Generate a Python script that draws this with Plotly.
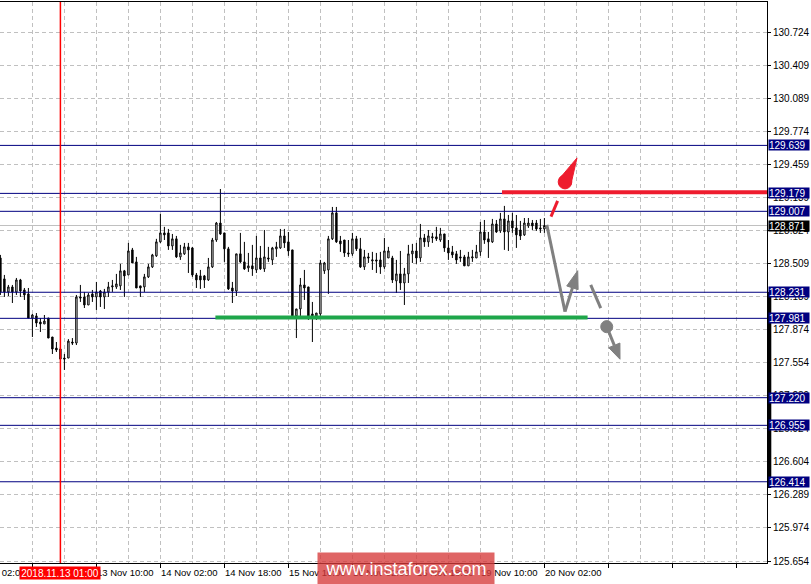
import plotly.graph_objects as go

# ---------------- data (USDJPY-like H1 candles) ----------------
opens = [128.560,128.359,128.234,128.282,128.234,128.349,128.253,128.215,127.984,128.004,
         127.946,127.927,127.984,127.802,127.696,127.687,127.600,127.600,127.754,127.744,
         128.186,128.186,128.109,128.215,128.186,128.243,128.186,128.234,128.282,128.282,
         128.292,128.436,128.397,128.637,128.522,128.292,128.282,128.378,128.474,128.580,
         128.714,128.800,128.800,128.675,128.743,128.570,128.599,128.666,128.656,128.397,
         128.388,128.388,128.349,128.474,128.732,128.895,128.800,128.647,128.272,128.243,
         128.599,128.522,128.464,128.484,128.445,128.560,128.455,128.560,128.541,128.647,
         128.656,128.771,128.714,128.637,128.004,128.071,128.301,128.282,128.023,128.004,
         128.023,128.436,128.445,128.743,128.992,128.723,128.732,128.608,128.599,128.743,
         128.647,128.474,128.570,128.531,128.541,128.541,128.474,128.560,128.560,128.340,
         128.407,128.320,128.407,128.599,128.627,128.560,128.752,128.714,128.752,128.762,
         128.732,128.790,128.656,128.618,128.599,128.570,128.570,128.484,128.560,128.560,
         128.618,128.809,128.743,128.714,128.886,128.819,128.934,128.809,128.915,128.848,
         128.828,128.781,128.867,128.895,128.895,128.848,128.838]
highs = [128.589,128.397,128.301,128.301,128.368,128.359,128.272,128.272,128.023,128.032,
         127.984,128.013,127.984,127.802,127.754,127.706,127.639,127.782,127.792,128.205,
         128.301,128.234,128.224,128.253,128.330,128.253,128.263,128.330,128.349,128.407,
         128.503,128.445,128.704,128.656,128.570,128.292,128.407,128.503,128.599,128.743,
         128.982,128.858,128.838,128.790,128.771,128.685,128.704,128.704,128.666,128.416,
         128.445,128.397,128.560,128.752,128.905,129.221,128.800,128.666,128.330,128.599,
         128.800,128.714,128.608,128.685,128.771,128.675,128.828,128.666,128.666,128.714,
         128.838,128.838,128.809,128.637,128.071,128.368,128.445,128.282,128.138,128.032,
         128.541,128.522,128.771,129.049,129.049,128.771,128.732,128.732,128.800,128.771,
         128.752,128.637,128.608,128.618,128.608,128.618,128.752,128.666,128.580,128.541,
         128.627,128.464,128.685,128.695,128.704,128.886,128.790,128.828,128.800,128.858,
         128.848,128.790,128.732,128.675,128.627,128.637,128.589,128.618,128.637,128.685,
         128.905,128.924,128.809,128.934,128.924,128.992,129.059,128.972,128.992,128.972,
         128.915,128.943,128.943,128.924,128.924,128.934,128.943]
lows = [128.205,128.186,128.195,128.128,128.205,128.186,128.157,127.984,127.802,127.898,
        127.850,127.927,127.792,127.639,127.658,127.581,127.486,127.600,127.725,127.725,
        128.138,128.080,128.109,128.138,128.061,128.090,128.071,128.186,128.234,128.263,
        128.253,128.186,128.397,128.512,128.272,128.186,128.234,128.368,128.464,128.570,
        128.704,128.732,128.637,128.637,128.560,128.541,128.589,128.416,128.378,128.272,
        128.263,128.272,128.340,128.464,128.714,128.781,128.522,128.253,128.128,128.195,
        128.512,128.445,128.426,128.388,128.416,128.445,128.426,128.522,128.493,128.570,
        128.647,128.656,128.580,128.004,127.792,128.004,128.157,127.965,127.754,127.965,
        128.004,128.407,128.215,128.732,128.704,128.618,128.570,128.570,128.580,128.627,
        128.464,128.445,128.512,128.445,128.416,128.407,128.455,128.560,128.320,128.224,
        128.253,128.109,128.320,128.512,128.503,128.522,128.666,128.666,128.704,128.723,
        128.714,128.618,128.541,128.560,128.503,128.522,128.484,128.484,128.522,128.560,
        128.580,128.695,128.560,128.704,128.800,128.800,128.637,128.627,128.800,128.656,
        128.732,128.771,128.848,128.828,128.819,128.800,128.800]
closes = [128.234,128.234,128.282,128.234,128.349,128.243,128.205,127.984,128.013,127.936,
          127.927,127.955,127.792,127.687,127.677,127.591,127.591,127.763,127.744,128.186,
          128.176,128.109,128.205,128.186,128.234,128.186,128.234,128.282,128.292,128.311,
          128.436,128.388,128.627,128.512,128.272,128.272,128.378,128.474,128.589,128.714,
          128.800,128.781,128.675,128.743,128.570,128.608,128.666,128.637,128.397,128.349,
          128.349,128.349,128.474,128.732,128.895,128.790,128.647,128.263,128.243,128.599,
          128.522,128.455,128.484,128.455,128.560,128.455,128.570,128.551,128.656,128.666,
          128.771,128.704,128.627,128.004,128.071,128.301,128.272,128.004,128.004,128.032,
          128.512,128.512,128.743,128.992,128.714,128.695,128.608,128.599,128.743,128.647,
          128.474,128.570,128.560,128.541,128.531,128.474,128.627,128.627,128.349,128.407,
          128.320,128.407,128.599,128.627,128.560,128.752,128.714,128.771,128.762,128.743,
          128.790,128.656,128.608,128.589,128.541,128.560,128.484,128.570,128.570,128.618,
          128.809,128.732,128.714,128.886,128.809,128.934,128.809,128.915,128.848,128.781,
          128.771,128.895,128.895,128.867,128.838,128.838,128.871]

# time-axis labels (bar index -> label); bar 0 = 2018.11.12 10:00 (H1)
xlabel_pos = [-8, 8, 24, 40, 56, 72, 88, 104, 120, 136]
xlabel_txt = ["12 Nov 02:00", "12 Nov 18:00", "13 Nov 10:00", "14 Nov 02:00", "14 Nov 18:00",
              "15 Nov 10:00", "16 Nov 02:00", "16 Nov 18:00", "19 Nov 10:00", "20 Nov 02:00"]
cursor_bar = 15
cursor_label = "2018.11.13 01:00"

# price axis ticks
ytick_vals = [130.724, 130.409, 130.089, 129.774, 129.459, 129.139, 128.824, 128.509, 128.189,
              127.874, 127.554, 127.239, 126.924, 126.604, 126.289, 125.974, 125.654]

# horizontal levels
levels = [129.639, 129.179, 129.007, 128.231, 127.981, 127.220, 126.955, 126.414]
current_price = 128.871

# ---------------- figure ----------------
X_RANGE = [-0.1, 191.65]
Y_RANGE = [125.635, 131.014]
x = list(range(len(opens)))

def xpaper(v):
    return (v - X_RANGE[0]) / (X_RANGE[1] - X_RANGE[0])

fig = go.Figure()
fig.add_trace(go.Candlestick(
    x=x, open=opens, high=highs, low=lows, close=closes,
    increasing=dict(line=dict(color="black", width=1), fillcolor="white"),
    decreasing=dict(line=dict(color="black", width=1), fillcolor="black"),
    whiskerwidth=0, hoverinfo="skip", showlegend=False,
))

FONT = "Liberation Sans, Arial, sans-serif"
grid = "#c0c0c0"
shapes = []
annotations = []

# level lines
for lv in levels:
    shapes.append(dict(type="line", xref="paper", x0=0, x1=1, yref="y", y0=lv, y1=lv,
                       line=dict(color="#000080", width=1), layer="above"))
shapes.append(dict(type="line", xref="paper", x0=0, x1=1, yref="y", y0=current_price, y1=current_price,
                   line=dict(color="#c0c0c0", width=1), layer="below"))
# cursor vertical line
shapes.append(dict(type="line", xref="x", x0=cursor_bar, x1=cursor_bar, yref="paper", y0=0, y1=1,
                   line=dict(color="#ff0000", width=1.5)))
# axis scroll bar
shapes.append(dict(type="line", xref="paper", x0=1.003, x1=1.003, yref="y", y0=126.354, y1=128.234,
                   line=dict(color="black", width=4)))

# support (green) and resistance (red) drawings
shapes.append(dict(type="line", xref="x", x0=53.75, x1=146.8, yref="y", y0=127.99, y1=127.99,
                   line=dict(color="#1ea64a", width=4)))
shapes.append(dict(type="line", xref="x", x0=125.4, x1=X_RANGE[1], yref="y", y0=129.19, y1=129.19,
                   line=dict(color="#ee1c2e", width=4)))
# red pin arrow
shapes.append(dict(type="circle", xref="x", yref="y", x0=139.45, x1=142.85, y0=129.222, y1=129.356,
                   fillcolor="#ee1c2e", line=dict(color="#ee1c2e", width=1)))
shapes.append(dict(type="path", xref="x", yref="y",
                   path="M 142.6,129.261 L 139.7,129.317 L 144.15,129.519 Z",
                   fillcolor="#ee1c2e", line=dict(color="#ee1c2e", width=1)))
shapes.append(dict(type="line", xref="x", yref="y", x0=137.65, y0=128.956, x1=139.3, y1=129.107,
                   line=dict(color="#ee1c2e", width=3)))
# gray scenario
gray = "#808080"
shapes.append(dict(type="line", xref="x", yref="y", x0=136.6, y0=128.877, x1=141.15, y1=128.045,
                   line=dict(color=gray, width=3)))
shapes.append(dict(type="line", xref="x", yref="y", x0=141.15, y0=128.045, x1=143.0, y1=128.273,
                   line=dict(color=gray, width=3)))
shapes.append(dict(type="path", xref="x", yref="y",
                   path="M 144.43,128.256 L 141.58,128.291 L 144.33,128.438 Z",
                   fillcolor=gray, line=dict(color=gray, width=1)))
shapes.append(dict(type="line", xref="x", yref="y", x0=147.58, y0=128.301, x1=150.08, y1=128.078,
                   line=dict(color=gray, width=3)))
shapes.append(dict(type="circle", xref="x", yref="y", x0=150.08, x1=153.08, y0=127.843, y1=127.959,
                   fillcolor=gray, line=dict(color=gray, width=1)))
shapes.append(dict(type="line", xref="x", yref="y", x0=151.58, y0=127.901, x1=153.48, y1=127.722,
                   line=dict(color=gray, width=3)))
shapes.append(dict(type="path", xref="x", yref="y",
                   path="M 154.88,127.744 L 152.08,127.700 L 154.9,127.589 Z",
                   fillcolor=gray, line=dict(color=gray, width=1)))

# time labels (left aligned at tick)
for p, t in zip(xlabel_pos, xlabel_txt):
    annotations.append(dict(xref="paper", yref="paper", x=xpaper(p) - 0.0015, y=-0.004,
                            xanchor="left", yanchor="top", text=t, showarrow=False,
                            font=dict(family=FONT, size=9.5, color="black")))
annotations.append(dict(xref="paper", yref="paper", x=xpaper(cursor_bar), y=-0.017,
                        xanchor="center", yanchor="middle", text=cursor_label, showarrow=False,
                        bgcolor="#ff0000", width=80, height=12, borderpad=0,
                        font=dict(family=FONT, size=10, color="white")))

# price boxes
for lv in levels:
    annotations.append(dict(xref="paper", yref="y", x=1, y=lv, xanchor="left", yanchor="middle",
                            xshift=1, text=f"{lv:.3f}", showarrow=False, bgcolor="#000080",
                            width=40, height=10, borderpad=0, align="left",
                            font=dict(family=FONT, size=10, color="white")))
annotations.append(dict(xref="paper", yref="y", x=1, y=current_price, xanchor="left", yanchor="middle",
                        xshift=1, text=f"{current_price:.3f}", showarrow=False, bgcolor="black",
                        width=40, height=10, borderpad=0, align="left",
                        font=dict(family=FONT, size=10, color="white")))

# watermark
annotations.append(dict(xref="paper", yref="paper", x=0.5293, y=-0.0098, xanchor="center",
                        yanchor="middle", text="www.instaforex.com", showarrow=False,
                        bgcolor="rgba(214,58,58,0.78)", width=176, height=31, borderpad=0,
                        font=dict(family=FONT, size=18, color="white")))

fig.update_layout(
    width=811, height=584,
    margin=dict(l=0, r=44, t=2, b=21),
    paper_bgcolor="white", plot_bgcolor="white",
    showlegend=False, hovermode=False,
    shapes=shapes, annotations=annotations,
    xaxis=dict(range=X_RANGE, rangeslider=dict(visible=False), tickmode="linear", tick0=8, dtick=16,
               ticks="outside", ticklen=4, tickcolor="black", showticklabels=False,
               showgrid=True, gridcolor=grid, griddash="4px,3px", gridwidth=1,
               minor=dict(tick0=0, dtick=8, showgrid=True, gridcolor=grid, griddash="4px,3px", ticks=""),
               showline=True, linecolor="black", linewidth=1, mirror=True, zeroline=False,
               fixedrange=True),
    yaxis=dict(range=Y_RANGE, side="right", tickmode="array", tickvals=ytick_vals,
               ticktext=[f"{v:.3f}" for v in ytick_vals], ticks="outside", ticklen=3,
               tickcolor="black", tickfont=dict(family=FONT, size=10, color="black"),
               showgrid=True, gridcolor=grid, griddash="4px,3px", gridwidth=1,
               showline=True, linecolor="black", linewidth=1, zeroline=False, fixedrange=True),
    boxgap=0.5,
)

fig.write_html("out.html", config={"displayModeBar": False},
               post_script="document.body.style.margin='0';document.body.style.overflow='hidden';")
